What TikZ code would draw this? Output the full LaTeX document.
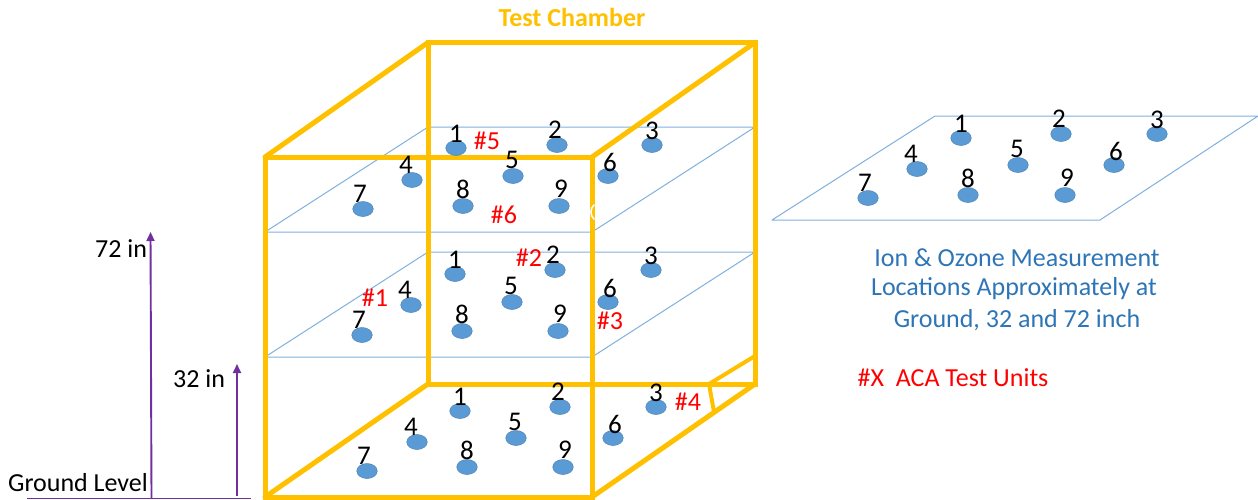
\documentclass[tikz,border=0pt]{standalone}
\usepackage{fontspec}
\setmainfont{Carlito}
\usetikzlibrary{arrows.meta,shapes.geometric}
\definecolor{chamber}{HTML}{FFC000}
\definecolor{plate}{HTML}{7FB0DE}
\definecolor{dotfill}{HTML}{5B9BD5}
\definecolor{arrowc}{HTML}{7030A0}
\definecolor{bluetext}{HTML}{2E75B6}
\tikzset{
  chamberline/.style={draw=chamber,line width=5pt,line cap=round,line join=miter},
  plateline/.style={draw=plate,line width=1pt,line join=round},
  spot/.style={ellipse,inner sep=0pt,minimum width=20.5pt,minimum height=15pt,fill=dotfill,draw=dotfill!85!black,line width=.5pt},
  numlabel/.style={inner sep=0pt,font=\fontsize{27}{27}\selectfont,text=black},
  unitlabel/.style={inner sep=0pt,font=\fontsize{26}{26}\selectfont,text=red},
  blacklabel/.style={inner sep=0pt,font=\fontsize{26}{26}\selectfont,text=black},
  bluelabel/.style={inner sep=0pt,font=\fontsize{26}{26}\selectfont,text=bluetext},
  heightarrow/.style={draw=arrowc,line width=1.9pt,-{Triangle[length=9pt,width=8pt]}},
}
\newcommand{\spotdx}[1]{\ifcase#1 0\or 0\or -2\or 0\or -6\or -1\or 2\or -3\or 0\or 2\fi}
\newcommand{\spotdy}[1]{\ifcase#1 0\or 14\or 15\or 14\or 15\or 16\or 14\or 15\or 17\or 17\fi}
\newcommand{\spotnum}[4]{%
  \node[spot] (#1) at (#2,#3) {};
  \node[numlabel] (#1t) at ({#2+(\spotdx{#4})},{#3-\spotdy{#4}}) {#4};}
\begin{document}
\begin{tikzpicture}[x=1pt,y=-1pt]
\useasboundingbox (0,0) rectangle (1258,499);
% ground
\coordinate (g0) at (27,498); \coordinate (g1) at (251,498);
\draw[draw=arrowc,line width=1pt] (g0) -- (g1);
\coordinate (a72s) at (151.5,498); \coordinate (a72e) at (150.5,232);
\coordinate (a32s) at (237,496); \coordinate (a32e) at (237,364);
\draw[heightarrow] (a72s) -- (a72e);
\draw[heightarrow] (a32s) -- (a32e);
% plates
\coordinate (p1a) at (265,232); \coordinate (p1b) at (592,232); \coordinate (p1c) at (755,127); \coordinate (p1d) at (428,127);
\draw[plateline] (p1a) -- (p1b) -- (p1c) -- (p1d) -- cycle;
\coordinate (p2a) at (265,357); \coordinate (p2b) at (592,357); \coordinate (p2c) at (755,252); \coordinate (p2d) at (428,252);
\draw[plateline] (p2a) -- (p2b) -- (p2c) -- (p2d) -- cycle;
\coordinate (p3a) at (772,220); \coordinate (p3b) at (1100,220); \coordinate (p3c) at (1258,116); \coordinate (p3d) at (935,116);
\draw[plateline] (p3a) -- (p3b) -- (p3c) -- (p3d) -- cycle;
% chamber
\coordinate (fa) at (265,157); \coordinate (fb) at (592,157); \coordinate (fc) at (592,497); \coordinate (fd) at (265,497);
\coordinate (ba) at (428,42.5); \coordinate (bb) at (755,42.5); \coordinate (bc) at (755,384); \coordinate (bd) at (428,384);
\coordinate (e1) at (709,384); \coordinate (e2) at (714,412); \coordinate (e3) at (755,356);
\draw[chamberline] (fa) -- (fb) -- (fc) -- (fd) -- cycle;
\draw[chamberline] (ba) -- (bb) -- (bc) -- (bd) -- cycle;
\draw[chamberline] (fa) -- (ba) (fb) -- (bb) (fd) -- (bd) (fc) -- (bc);
\draw[chamberline,line width=4pt] (e1) -- (e2) (e1) -- (e3);
% white fragment on the front post
\coordinate (w1) at (594,205); \coordinate (w2) at (594,219);
\draw[white,line width=1.6pt,line cap=round] (w1) .. controls (590,208) and (590,216) .. (w2);
% spots, top plate
\spotnum{a1}{456}{148}{1}
\spotnum{a2}{557}{145}{2}
\spotnum{a3}{652}{145}{3}
\spotnum{a4}{412}{180}{4}
\spotnum{a5}{513}{176}{5}
\spotnum{a6}{608}{176}{6}
\spotnum{a7}{363}{209}{7}
\spotnum{a8}{463}{206}{8}
\spotnum{a9}{559}{206}{9}
% middle plate
\spotnum{b1}{455}{274}{1}
\spotnum{b2}{555}{270}{2}
\spotnum{b3}{651}{270}{3}
\spotnum{b4}{411}{305}{4}
\spotnum{b5}{512}{302}{5}
\spotnum{b6}{608}{302}{6}
\spotnum{b7}{362}{335}{7}
\spotnum{b8}{462}{331}{8}
\spotnum{b9}{558}{331}{9}
% bottom plate
\spotnum{c1}{460}{411}{1}
\spotnum{c2}{560}{407}{2}
\spotnum{c3}{656}{407}{3}
\spotnum{c4}{417}{442}{4}
\spotnum{c5}{516}{438}{5}
\spotnum{c6}{613}{438}{6}
\spotnum{c7}{367}{471}{7}
\spotnum{c8}{467}{467}{8}
\spotnum{c9}{563}{467}{9}
% right plate
\spotnum{d1}{961}{138}{1}
\spotnum{d2}{1061}{134}{2}
\spotnum{d3}{1157}{134}{3}
\spotnum{d4}{917}{169}{4}
\spotnum{d5}{1018}{165}{5}
\spotnum{d6}{1114}{165}{6}
\spotnum{d7}{868}{198}{7}
\spotnum{d8}{968}{195}{8}
\spotnum{d9}{1065}{195}{9}
% unit labels
\node[unitlabel] (u1) at (375,298) {\#1};
\node[unitlabel] (u2) at (529,258) {\#2};
\node[unitlabel] (u3) at (610,321) {\#3};
\node[unitlabel] (u4) at (688,402) {\#4};
\node[unitlabel] (u5) at (487,141) {\#5};
\node[unitlabel] (u6) at (504,215) {\#6};
% other text
\node[inner sep=0pt,font=\fontsize{26}{26}\selectfont\bfseries,text=chamber] (title) at (572,17) {Test Chamber};
\node[blacklabel] (t72) at (121,249) {72 in};
\node[blacklabel] (t32) at (199,379) {32 in};
\node[blacklabel] (tg) at (78,483) {Ground Level};
\node[bluelabel] (m1) at (1017,258) {Ion \& Ozone Measurement};
\node[bluelabel] (m2) at (1014,289) {Locations Approximately at};
\node[bluelabel] (m3) at (1017,320) {Ground, 32 and 72 inch};
\node[inner sep=0pt,font=\fontsize{26}{26}\selectfont,text=red] (key) at (953,378) {\#X\ \ ACA Test Units};
\end{tikzpicture}
\end{document}
